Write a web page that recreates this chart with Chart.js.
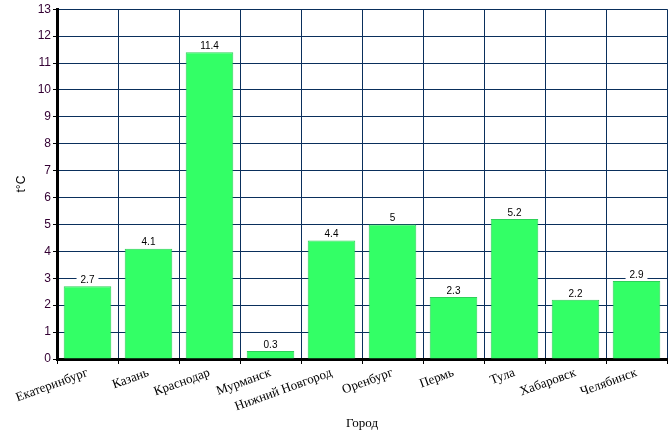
<!DOCTYPE html>
<html>
<head>
<meta charset="utf-8">
<script src="https://cdn.jsdelivr.net/npm/chart.js@4"></script>
<style>
  html, body { margin: 0; padding: 0; background: #fff; }
  #wrap { width: 671px; height: 439px; }
</style>
</head>
<body>
<div id="wrap"><canvas id="myChart" width="671" height="439"></canvas></div>
<script>
const cities = ['Екатеринбург', 'Казань', 'Краснодар', 'Мурманск', 'Нижний Новгород',
    'Оренбург', 'Пермь', 'Тула', 'Хабаровск', 'Челябинск'];
const temps = [2.7, 4.1, 11.4, 0.3, 4.4, 5, 2.3, 5.2, 2.2, 2.9];
const yMin = 0;
const yMax = 13;

// labels above the bars, on a white box
const valueLabels = {
    id: 'valueLabels',
    afterDatasetsDraw(chart) {
        const ctx = chart.ctx;
        const meta = chart.getDatasetMeta(0);
        ctx.save();
        ctx.font = '10px "Liberation Sans", Arial, sans-serif';
        ctx.textAlign = 'center';
        ctx.textBaseline = 'bottom';
        meta.data.forEach((bar, i) => {
            const txt = String(temps[i]);
            const w = ctx.measureText(txt).width + 8;
            ctx.fillStyle = '#fff';
            ctx.fillRect(bar.x - w / 2, bar.y - 12, w, 11);
            ctx.fillStyle = '#000';
            ctx.fillText(txt, bar.x, bar.y - 1);
        });
        ctx.restore();
    }
};

const ctx = document.getElementById('myChart');

new Chart(ctx, {
    type: 'bar',
    data: {
        labels: cities,
        datasets: [{
            data: temps,
            backgroundColor: '#33ff66',
            borderColor: '#2dd158',
            borderWidth: 1,
            barPercentage: 0.78,
            categoryPercentage: 1
        }]
    },
    options: {
        responsive: false,
        animation: false,
        layout: { padding: { top: 9, right: 4, left: 0, bottom: 0 } },
        plugins: {
            legend: { display: false },
            tooltip: { enabled: false }
        },
        scales: {
            x: {
                afterFit: s => { s.height = 80; },
                grid: {
                    color: '#0a2f5c',
                    lineWidth: 1,
                    tickColor: '#000',
                    tickLength: 5,
                    offset: true
                },
                border: { color: '#000', width: 3 },
                ticks: {
                    color: '#000',
                    autoSkip: false,
                    maxRotation: 20,
                    minRotation: 20,
                    padding: 1,
                    font: { family: '"Liberation Serif", "Times New Roman", serif', size: 13 }
                },
                title: {
                    display: true,
                    text: 'Город',
                    color: '#000',
                    padding: { top: 4, bottom: 8 },
                    font: { family: '"Liberation Serif", "Times New Roman", serif', size: 13 }
                }
            },
            y: {
                min: yMin,
                max: yMax,
                afterFit: s => { s.width = 57; },
                grid: {
                    color: '#0a2f5c',
                    lineWidth: 1,
                    tickColor: '#000',
                    tickLength: 4
                },
                border: { color: '#000', width: 3 },
                ticks: {
                    stepSize: 1,
                    color: '#330033',
                    padding: 2,
                    font: { family: '"Liberation Sans", Arial, sans-serif', size: 12 }
                },
                title: {
                    display: true,
                    text: 't°C',
                    color: '#000',
                    padding: { top: 14, bottom: 4 },
                    font: { family: '"Liberation Sans", Arial, sans-serif', size: 12 }
                }
            }
        }
    },
    plugins: [valueLabels]
});
</script>
</body>
</html>
